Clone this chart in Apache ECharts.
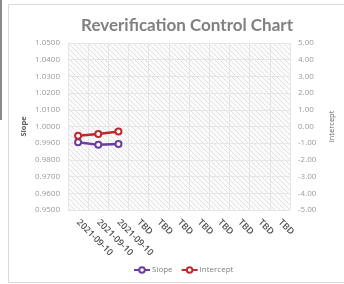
<!DOCTYPE html>
<html><head><meta charset="utf-8">
<script src="https://cdn.jsdelivr.net/npm/echarts@6/dist/echarts.min.js"></script>
<style>html,body{margin:0;padding:0;background:#fff}#c{width:344px;height:284px}</style>
</head><body><div id="c"></div>
<script>
const categories = ['2021-09-10','2021-09-10','2021-09-10','TBD','TBD','TBD','TBD','TBD','TBD','TBD','TBD'];
const slopeValues = [0.9905, 0.9890, 0.9895];
const interceptValues = [-0.55, -0.45, -0.30];
const slopeTicks = {min: 0.95, max: 1.05, step: 0.01};
const interceptTicks = {min: -5, max: 5, step: 1};

const pc = document.createElement('canvas');
pc.width = 5; pc.height = 5;
const g = pc.getContext('2d');
g.fillStyle = '#fbfbfb'; g.fillRect(0,0,5,5);
g.strokeStyle = '#e2e2e2'; g.lineWidth = 1;
g.beginPath(); g.moveTo(-1,-1); g.lineTo(6,6); g.stroke();

const chart = echarts.init(document.getElementById('c'));
const font = 'Open Sans';
chart.setOption({
  animation: false,
  backgroundColor: '#fff',
  graphic: [
    {type:'rect', shape:{x:8.5,y:4.5,width:345,height:278}, style:{fill:'none',stroke:'#d9d9d9',lineWidth:1}, silent:true},
    {type:'rect', shape:{x:0,y:0,width:2,height:120}, style:{fill:'#8a8a8a'}, silent:true}
  ],
  title: {
    text: 'Reverification Control Chart', left: 182, textAlign: 'center', top: 12,
    textStyle: {fontFamily: 'Lato', fontWeight: 'bold', fontSize: 17, color: '#808080'}
  },
  grid: {left: 68, right: 42, top: 43, bottom: 74, show: true, backgroundColor: {image: pc, repeat: 'repeat'}, borderWidth: 0},
  legend: {
    bottom: 5, left: 128, itemWidth: 16, itemHeight: 7, itemGap: 8,
    textStyle: {fontFamily: font, fontSize: 8, color: '#808080', padding: [0,0,0,-3]},
    data: ['Slope','Intercept']
  },
  xAxis: {
    type: 'category', data: categories, boundaryGap: true,
    axisLine: {show: false}, axisTick: {show: false},
    splitLine: {show: true, lineStyle: {color: '#e6e6e6', width: 1}},
    axisLabel: {rotate: -45, interval: 0, fontFamily: font, fontSize: 9, fontWeight: 600, color: '#505050', margin: 11}
  },
  yAxis: [
    {type: 'value', min: slopeTicks.min, max: slopeTicks.max, interval: slopeTicks.step,
     name: 'Slope', nameLocation: 'middle', nameGap: 40, nameRotate: 90, nameMoveOverlap: false,
     nameTextStyle: {fontFamily: font, fontSize: 7.5, color: '#606060', fontWeight: 'bold'},
     axisLine: {show: false}, axisTick: {show: false},
     splitLine: {show: true, lineStyle: {color: '#e6e6e6'}},
     axisLabel: {fontFamily: font, fontSize: 8, color: '#9a9a9a', margin: 8, formatter: v => v.toFixed(4)}},
    {type: 'value', min: interceptTicks.min, max: interceptTicks.max, interval: interceptTicks.step,
     name: 'Intercept', nameLocation: 'middle', nameGap: 38, nameRotate: 90, nameMoveOverlap: false,
     nameTextStyle: {fontFamily: font, fontSize: 7.5, color: '#606060'},
     axisLine: {show: false}, axisTick: {show: false}, splitLine: {show: false},
     axisLabel: {fontFamily: font, fontSize: 8, color: '#9a9a9a', margin: 8, formatter: v => v.toFixed(2)}}
  ],
  series: [
    {name: 'Slope', type: 'line', yAxisIndex: 0, data: slopeValues, symbol: 'circle', symbolSize: 6,
     lineStyle: {color: '#6a3da0', width: 2.5}, itemStyle: {color: '#fff', borderColor: '#6a3da0', borderWidth: 2}},
    {name: 'Intercept', type: 'line', yAxisIndex: 1, data: interceptValues, symbol: 'circle', symbolSize: 6,
     lineStyle: {color: '#c0282d', width: 2.5}, itemStyle: {color: '#fff', borderColor: '#c0282d', borderWidth: 2}}
  ]
});
</script></body></html>
